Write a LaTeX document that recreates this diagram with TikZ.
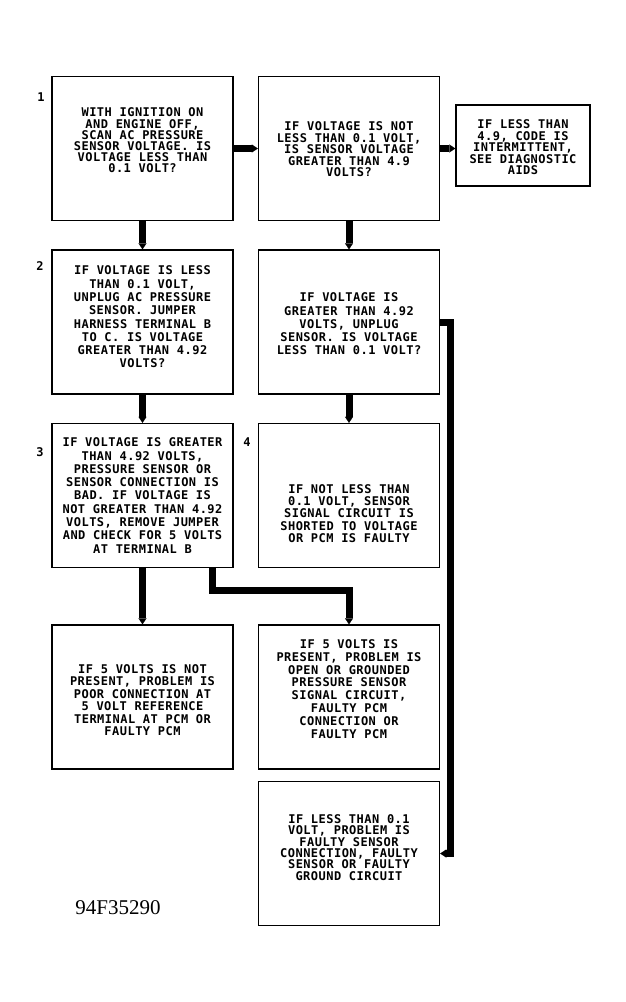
\documentclass[tikz,border=0pt]{standalone}
\usepackage{fontspec}
\newfontfamily\boxfont[LetterSpace=4]{DejaVu Sans Mono}
\newfontfamily\tagfont{Liberation Serif}
\usetikzlibrary{arrows.meta, positioning}

\begin{document}
\begin{tikzpicture}[
        x=1pt, y=-1pt,
        node distance=24pt,
        box/.style={draw, line width=1.5pt, minimum width=181pt, minimum height=144pt, inner sep=0pt},
        txt/.style={font=\boxfont\bfseries\fontsize{12}{#1}\selectfont, align=center, inner sep=0pt},
        txt/.default=12,
        num/.style={font=\boxfont\bfseries\fontsize{12}{12}\selectfont, inner sep=0pt},
        flow/.style={line width=7pt, line join=miter, -{Triangle[length=6pt,width=8pt,line width=0.1pt]}}
        ]
        \useasboundingbox (0,0) rectangle (626,1002);

        % Boxes
        \node[box] (q1) at (142.5,148.5) {};
        \node[box, right=of q1] (q1b) {};
        \node[box, right=15pt of q1b, minimum width=134pt, minimum height=81pt, yshift=3pt] (qc) {};
        \node[box, below=28pt of q1] (q2) {};
        \node[box, right=of q2] (qd) {};
        \node[box, below=28pt of q2] (q3) {};
        \node[box, right=of q3] (q4) {};
        \node[box, below=56pt of q3] (q5) {};
        \node[box, right=of q5] (q6) {};
        \node[box, below=11pt of q6] (qf) {};

        % Texts
        \node[txt=11.2] (t1) at ([yshift=8pt]q1.center) {WITH IGNITION ON\\AND ENGINE OFF,\\SCAN AC PRESSURE\\SENSOR VOLTAGE. IS\\VOLTAGE LESS THAN\\0.1 VOLT?};
        \node[txt=11.5] (t1b) at ([yshift=-1pt]q1b.center) {IF VOLTAGE IS NOT\\LESS THAN 0.1 VOLT,\\IS SENSOR VOLTAGE\\GREATER THAN 4.9\\VOLTS?};
        \node[txt=11.5] (tc) at ([yshift=-2pt]qc.center) {IF LESS THAN\\4.9, CODE IS\\INTERMITTENT,\\SEE DIAGNOSTIC\\AIDS};
        \node[txt=13.3] (t2) at ([yshift=5pt]q2.center) {IF VOLTAGE IS LESS\\THAN 0.1 VOLT,\\UNPLUG AC PRESSURE\\SENSOR. JUMPER\\HARNESS TERMINAL B\\TO C. IS VOLTAGE\\GREATER THAN 4.92\\VOLTS?};
        \node[txt=13.3] (td) at ([yshift=-2pt]qd.center) {IF VOLTAGE IS\\GREATER THAN 4.92\\VOLTS, UNPLUG\\SENSOR. IS VOLTAGE\\LESS THAN 0.1 VOLT?};
        \node[txt=13.3] (t3) at (q3.center) {IF VOLTAGE IS GREATER\\THAN 4.92 VOLTS,\\PRESSURE SENSOR OR\\SENSOR CONNECTION IS\\BAD. IF VOLTAGE IS\\NOT GREATER THAN 4.92\\VOLTS, REMOVE JUMPER\\AND CHECK FOR 5 VOLTS\\AT TERMINAL B};
        \node[txt=12.2] (t4) at ([yshift=-18pt]q4.center) {IF NOT LESS THAN\\0.1 VOLT, SENSOR\\SIGNAL CIRCUIT IS\\SHORTED TO VOLTAGE\\OR PCM IS FAULTY};
        \node[txt=12.5] (t5) at ([yshift=-3pt]q5.center) {IF 5 VOLTS IS NOT\\PRESENT, PROBLEM IS\\POOR CONNECTION AT\\5 VOLT REFERENCE\\TERMINAL AT PCM OR\\FAULTY PCM};
        \node[txt=12.9] (t6) at ([yshift=8pt]q6.center) {IF 5 VOLTS IS\\PRESENT, PROBLEM IS\\OPEN OR GROUNDED\\PRESSURE SENSOR\\SIGNAL CIRCUIT,\\FAULTY PCM\\CONNECTION OR\\FAULTY PCM};
        \node[txt=11.3] (tf) at ([yshift=6pt]qf.center) {IF LESS THAN 0.1\\VOLT, PROBLEM IS\\FAULTY SENSOR\\CONNECTION, FAULTY\\SENSOR OR FAULTY\\GROUND CIRCUIT};

        % Step numbers
        \node[num] (n1) at (41,97) {1};
        \node[num] (n2) at (40,266) {2};
        \node[num] (n3) at (40,452) {3};
        \node[num] (n4) at (247,442) {4};
        \node[font=\tagfont\fontsize{21}{21}\selectfont, inner sep=0pt] (tag) at (118,908) {94F35290};

        % Arrows
        \draw[flow] (q1.east) -- (q1.east -| q1b.west);
        \draw[flow] (q1b.east) -- (q1b.east -| qc.west);
        \draw[flow] (q1.south) -- (q2.north);
        \draw[flow] (q1b.south) -- (qd.north);
        \draw[flow] (q2.south) -- (q3.north);
        \draw[flow] (qd.south) -- (q4.north);
        \draw[flow] (q3.south) -- (q5.north);
        \draw[flow] ([xshift=70pt]q3.south) -- ++(0,22) -| (q6.north);
        \draw[flow] (qd.east) -- ++(10,0) |- (qf.east);
    \end{tikzpicture}
\end{document}
